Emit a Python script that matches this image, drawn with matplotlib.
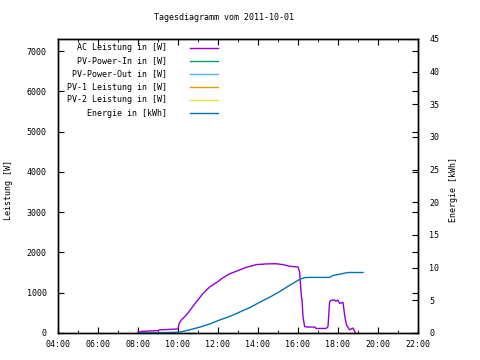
import matplotlib
matplotlib.use("Agg")
import matplotlib.pyplot as plt
from matplotlib.ticker import MultipleLocator, FuncFormatter

# AC Leistung [W] ueber Tageszeit (Stunden)
ac_hours = [8.0, 8.2, 8.6, 9.0, 9.1, 9.6, 10.0, 10.05, 10.17, 10.42, 10.67, 10.92,
            11.25, 11.58, 11.92, 12.25, 12.58, 13.0, 13.42, 13.92, 14.42, 14.9,
            15.25, 15.58, 16.0, 16.08, 16.17, 16.2, 16.25, 16.33, 16.5, 16.85,
            16.9, 17.4, 17.5, 17.58, 17.67, 17.83, 17.9, 18.0, 18.08, 18.25,
            18.33, 18.42, 18.58, 18.75, 18.88]
ac_watt = [20, 40, 50, 60, 80, 90, 100, 228, 326, 448, 612, 775,
           980, 1142, 1250, 1372, 1470, 1550, 1632, 1698, 1715, 1720,
           1698, 1657, 1640, 1510, 900, 830, 408, 160, 147, 147,
           113, 113, 160, 775, 816, 816, 790, 816, 735, 760,
           448, 203, 80, 122, 0]

# Energie [kWh]
en_hours = [8.0, 9.0, 10.0, 10.25, 10.6, 11.08, 11.6, 12.08, 12.6, 13.08, 13.6,
            14.08, 14.6, 15.08, 15.58, 16.08, 16.3, 16.5, 17.58, 17.75, 18.08,
            18.5, 19.25]
en_kwh = [0.0, 0.05, 0.12, 0.24, 0.5, 0.89, 1.4, 1.98, 2.55, 3.2, 3.9,
          4.7, 5.5, 6.33, 7.3, 8.2, 8.45, 8.51, 8.51, 8.8, 9.0,
          9.26, 9.26]

legend_labels = ["AC Leistung in [W]", "PV-Power-In in [W]", "PV-Power-Out in [W]",
                 "PV-1 Leistung in [W]", "PV-2 Leistung in [W]", "Energie in [kWh]"]
legend_colors = ["#9400d3", "#009e73", "#56b4e9", "#e69f00", "#f0e442", "#0072b2"]

plt.rcParams['font.family'] = ['DejaVu Sans Mono']
plt.rcParams['font.size'] = 6

fig = plt.figure(figsize=(4.8, 3.6), dpi=100)
ax = fig.add_axes([58 / 480, 27 / 360, 360 / 480, 294 / 360])
ax2 = ax.twinx()

ax.plot(ac_hours, ac_watt, color=legend_colors[0], lw=1)
ax2.plot(en_hours, en_kwh, color=legend_colors[5], lw=1)

ax.set_xlim(4, 22)
ax.set_ylim(0, 7300)
ax2.set_ylim(0, 45)

ax.xaxis.set_major_locator(MultipleLocator(2))
ax.xaxis.set_minor_locator(MultipleLocator(1))
ax.xaxis.set_major_formatter(FuncFormatter(lambda v, p: "%02d:00" % int(v)))
ax.yaxis.set_major_locator(MultipleLocator(1000))
ax2.yaxis.set_major_locator(MultipleLocator(5))

ax.tick_params(axis='x', which='both', direction='in', top=True, pad=5)
ax.tick_params(axis='x', which='major', length=4)
ax.tick_params(axis='x', which='minor', length=2)
ax.tick_params(axis='y', direction='in', right=True, length=4, pad=8)
ax2.tick_params(axis='y', direction='in', length=4, pad=8)
for a in (ax, ax2):
    for s in a.spines.values():
        s.set_linewidth(1)

# Legende wie bei gnuplot: Text rechtsbuendig, Linie rechts daneben
for i, (lab, col) in enumerate(zip(legend_labels, legend_colors)):
    y = 1 - (9 + 13 * i) / 294
    ax.text((167 - 58) / 360, y, lab, transform=ax.transAxes, ha='right', va='center')
    ax.plot([(190 - 58) / 360, (218 - 58) / 360], [y, y], transform=ax.transAxes,
            color=col, lw=1)

fig.text(224 / 480, 1 - 18 / 360, "Tagesdiagramm vom 2011-10-01", ha='center', va='center')
fig.text(9 / 480, 0.5 - 10 / 360, "Leistung [W]", rotation=90, ha='center', va='center')
fig.text(453 / 480, 0.5 - 10 / 360, "Energie [kWh]", rotation=90, ha='center', va='center')

fig.savefig("out.png", dpi=100)
